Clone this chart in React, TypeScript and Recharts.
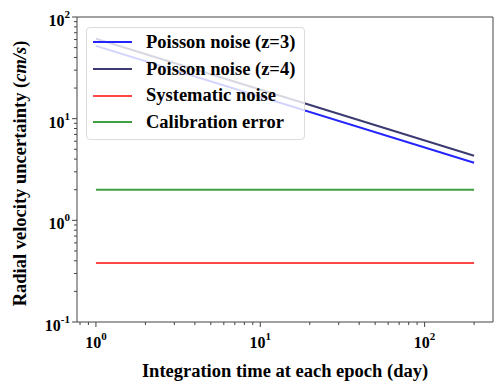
import {
  LineChart,
  Line,
  XAxis,
  YAxis,
  Legend,
  Label,
  ReferenceArea,
} from "recharts";

// data (log-log)
const days = [1, 200];
const poissonZ3 = [52, 3.68];
const poissonZ4 = [61, 4.31];
const systematicNoise = [0.38, 0.38];
const calibrationError = [2.0, 2.0];

const xMajor = [1, 10, 100];
const xTicks = [0.8, 0.9, 1, 2, 3, 4, 5, 6, 7, 8, 9, 10, 20, 30, 40, 50, 60, 70, 80, 90, 100, 200];
const yMajor = [0.1, 1, 10, 100];
const yTicks = [
  0.1, 0.2, 0.3, 0.4, 0.5, 0.6, 0.7, 0.8, 0.9, 1, 2, 3, 4, 5, 6, 7, 8, 9, 10,
  20, 30, 40, 50, 60, 70, 80, 90, 100,
];
const xDomain = [0.767, 260.7];
const yDomain = [0.1, 100];

const series = [
  { key: "z3", name: "Poisson noise (z=3)", color: "#2424ff" },
  { key: "z4", name: "Poisson noise (z=4)", color: "#3b3b72" },
  { key: "sys", name: "Systematic noise", color: "#ff4747" },
  { key: "cal", name: "Calibration error", color: "#3fa03f" },
];

const data = days.map((d, i) => ({
  day: d,
  z3: poissonZ3[i],
  z4: poissonZ4[i],
  sys: systematicNoise[i],
  cal: calibrationError[i],
}));

const FONT = "'Liberation Serif', 'Times New Roman', serif";
const AXIS = "#444";

const expOf = (v: number) => String(Math.round(Math.log10(v)));

const XTick = (props: any) => {
  const { x, y, payload } = props;
  const major = xMajor.some((m) => Math.abs(m - payload.value) < 1e-9);
  return (
    <g>
      <line x1={x} x2={x} y1={y} y2={y + (major ? 5 : 3)} stroke={AXIS} />
      {major && (
        <text x={x} y={y + 26} textAnchor="middle" fontFamily={FONT} fontWeight="bold" fontSize={16} fill="#000">
          10<tspan dy={-8} fontSize={11}>{expOf(payload.value)}</tspan>
        </text>
      )}
    </g>
  );
};

const YTick = (props: any) => {
  const { x, y, payload } = props;
  const major = yMajor.some((m) => Math.abs(m - payload.value) < 1e-9);
  return (
    <g>
      <line x1={x - (major ? 5 : 3)} x2={x} y1={y} y2={y} stroke={AXIS} />
      {major && (
        <text x={x - 7} y={y + 9} textAnchor="end" fontFamily={FONT} fontWeight="bold" fontSize={16} fill="#000">
          10<tspan dy={-8} fontSize={11}>{expOf(payload.value)}</tspan>
        </text>
      )}
    </g>
  );
};

const LegendBox = () => (
  <div
    style={{
      width: 217,
      height: 110,
      border: "1px solid #dcdcdc",
      borderRadius: 4,
      background: "rgba(255,255,255,0.8)",
      paddingTop: 1,
      fontFamily: FONT,
      fontWeight: "bold",
      fontSize: 18.5,
      color: "#000",
    }}
  >
    {series.map((s) => (
      <div key={s.key} style={{ display: "flex", alignItems: "center", height: 26.7 }}>
        <div style={{ width: 39, height: 2, marginLeft: 6, background: s.color }} />
        <span style={{ marginLeft: 14, whiteSpace: "nowrap" }}>{s.name}</span>
      </div>
    ))}
  </div>
);

export default function App() {
  return (
    <div style={{ position: "absolute", left: 0, top: 0, background: "#fff" }}>
      <LineChart
        width={501}
        height={382}
        data={data}
        margin={{ top: 17, right: 8, bottom: 0, left: 0 }}
      >
        <XAxis
          dataKey="day"
          type="number"
          scale="log"
          domain={xDomain}
          allowDataOverflow
          ticks={xTicks}
          interval={0}
          tick={<XTick />}
          tickSize={0}
          tickMargin={0}
          tickLine={false}
          axisLine={false}
          height={60}
        >
          <Label
            content={(p: any) => (
              <text
                x={p.viewBox.x + p.viewBox.width / 2}
                y={p.viewBox.y + 55}
                textAnchor="middle"
                fontFamily={FONT}
                fontWeight="bold"
                fontSize={18.5}
                fill="#000"
              >
                Integration time at each epoch (day)
              </text>
            )}
          />
        </XAxis>
        <YAxis
          type="number"
          scale="log"
          domain={yDomain}
          allowDataOverflow
          ticks={yTicks}
          interval={0}
          tick={<YTick />}
          tickSize={0}
          tickMargin={0}
          tickLine={false}
          axisLine={false}
          width={77}
        >
          <Label
            content={(p: any) => {
              const cx = 20;
              const cy = p.viewBox.y + p.viewBox.height / 2 + 4;
              return (
                <text
                  x={cx}
                  y={cy}
                  transform={`rotate(-90 ${cx} ${cy})`}
                  textAnchor="middle"
                  dominantBaseline="central"
                  fontFamily={FONT}
                  fontWeight="bold"
                  fontSize={18.5}
                  fill="#000"
                >
                  Radial velocity uncertainty (<tspan fontStyle="italic">cm/s</tspan>)
                </text>
              );
            }}
          />
        </YAxis>
        <ReferenceArea
          x1={xDomain[0]}
          x2={xDomain[1]}
          y1={yDomain[0]}
          y2={yDomain[1]}
          fill="none"
          stroke={AXIS}
          strokeWidth={1}
          ifOverflow="visible"
        />
        {series.map((s) => (
          <Line
            key={s.key}
            dataKey={s.key}
            name={s.name}
            stroke={s.color}
            strokeWidth={2}
            dot={false}
            isAnimationActive={false}
          />
        ))}
        <Legend
          layout="vertical"
          align="center"
          verticalAlign="middle"
          content={<LegendBox />}
          wrapperStyle={{ left: 86, top: 27, width: 219, height: 112 }}
        />
      </LineChart>
    </div>
  );
}
